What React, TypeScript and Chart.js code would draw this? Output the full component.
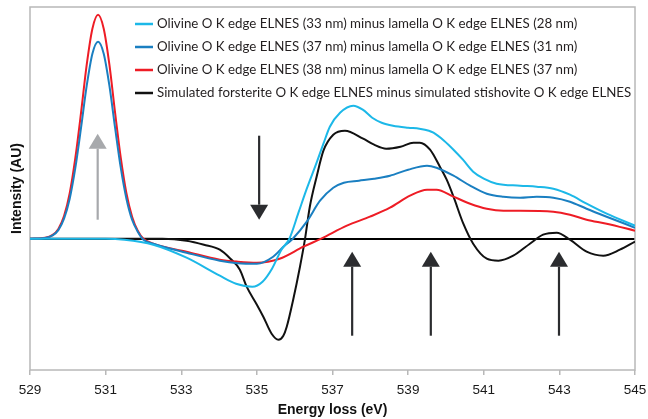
import React, { useEffect, useRef } from 'react';
import { Chart, registerables } from 'chart.js';

Chart.register(...registerables);

// ---- Data ----
const xTickValues = [529, 531, 533, 535, 537, 539, 541, 543, 545];

const cyanLabel = 'Olivine O K edge ELNES (33 nm) minus lamella O K edge ELNES (28 nm)';
const cyanEnergy = [529, 531, 531.5, 532.26, 533.14, 534.02, 534.45, 534.88, 535.15, 535.4, 535.65, 535.86, 536.1, 536.32, 536.58, 536.76, 536.93, 537.2, 537.55, 537.8, 538.05, 538.3, 538.6, 539.0, 539.3, 539.55, 539.67, 539.95, 540.2, 540.45, 540.72, 541.0, 541.34, 541.96, 542.4, 542.84, 543.28, 543.72, 544.25, 545];
const cyanIntensity = [0, 0, -0.01, -0.06, -0.19, -0.37, -0.45, -0.48, -0.43, -0.3, -0.11, 0, 0.26, 0.5, 0.76, 0.95, 1.12, 1.26, 1.33, 1.29, 1.21, 1.16, 1.13, 1.11, 1.1, 1.08, 1.06, 0.98, 0.89, 0.79, 0.67, 0.6, 0.55, 0.53, 0.52, 0.5, 0.44, 0.35, 0.25, 0.13];

const blueLabel = 'Olivine O K edge ELNES (37 nm) minus lamella O K edge ELNES (31 nm)';
const blueEnergy = [529, 529.4, 529.6, 529.75, 529.9, 530.05, 530.2, 530.35, 530.5, 530.65, 530.8, 530.95, 531.1, 531.25, 531.4, 531.55, 531.7, 531.85, 532.0, 532.26, 533.14, 534.02, 534.5, 535.0, 535.43, 535.7, 535.95, 536.32, 536.67, 537.02, 537.3, 537.7, 538.1, 538.52, 539.0, 539.5, 539.75, 540.2, 540.64, 541.08, 541.52, 541.96, 542.4, 542.84, 543.28, 543.72, 544.25, 545];
const blueIntensity = [0, 0.008, 0.033, 0.086, 0.2, 0.4, 0.71, 1.11, 1.53, 1.85, 1.97, 1.85, 1.53, 1.11, 0.71, 0.4, 0.19, 0.07, -0.01, -0.05, -0.14, -0.22, -0.245, -0.25, -0.18, -0.08, 0, 0.17, 0.38, 0.51, 0.56, 0.58, 0.6, 0.63, 0.69, 0.73, 0.71, 0.63, 0.53, 0.45, 0.42, 0.41, 0.42, 0.41, 0.37, 0.3, 0.22, 0.11];

const redLabel = 'Olivine O K edge ELNES (38 nm) minus lamella O K edge ELNES (37 nm)';
const redEnergy = [529, 529.4, 529.6, 529.75, 529.9, 530.05, 530.2, 530.35, 530.5, 530.65, 530.8, 530.95, 531.1, 531.25, 531.4, 531.55, 531.7, 531.85, 532.0, 532.26, 533.14, 534.02, 534.5, 535.0, 535.6, 536.23, 536.7, 537.38, 537.99, 538.52, 539.05, 539.5, 539.75, 540.2, 540.64, 541.08, 541.52, 541.96, 542.84, 543.28, 543.72, 544.25, 545];
const redIntensity = [0, 0.009, 0.038, 0.098, 0.226, 0.455, 0.81, 1.26, 1.74, 2.1, 2.24, 2.1, 1.74, 1.26, 0.81, 0.455, 0.22, 0.08, 0, -0.05, -0.13, -0.21, -0.23, -0.24, -0.2, -0.08, 0, 0.13, 0.22, 0.31, 0.43, 0.49, 0.49, 0.42, 0.35, 0.3, 0.28, 0.28, 0.27, 0.24, 0.19, 0.15, 0.08];

const blackLabel = 'Simulated forsterite O K edge ELNES minus simulated stishovite O K edge ELNES';
const blackEnergy = [529, 532.5, 533.14, 533.6, 534.02, 534.3, 534.55, 534.73, 535.0, 535.17, 535.39, 535.57, 535.7, 535.79, 535.96, 536.14, 536.27, 536.4, 536.58, 536.76, 537.02, 537.33, 537.81, 538.1, 538.42, 538.8, 539.14, 539.31, 539.58, 539.84, 540.02, 540.2, 540.46, 540.72, 541.08, 541.39, 541.78, 542.22, 542.57, 542.93, 543.28, 543.72, 544.16, 544.6, 545];
const blackIntensity = [0, 0, -0.02, -0.06, -0.11, -0.2, -0.31, -0.48, -0.66, -0.78, -0.95, -1.01, -0.97, -0.88, -0.61, -0.28, -0.01, 0.32, 0.62, 0.88, 1.04, 1.08, 1.0, 0.94, 0.9, 0.92, 0.96, 0.96, 0.89, 0.72, 0.59, 0.42, 0.15, -0.05, -0.2, -0.22, -0.17, -0.05, 0.04, 0.06, -0.01, -0.13, -0.17, -0.11, -0.03];

// Arrows: energy position, tail value, tip value, colour
const arrowEnergy = [530.79, 535.06, 537.52, 539.6, 542.99];
const arrowTail = [0.19, 1.03, -0.97, -0.97, -0.97];
const arrowTip = [1.05, 0.19, -0.13, -0.13, -0.13];
const arrowColor = ['#a7a9ac', '#2b2c2f', '#2b2c2f', '#2b2c2f', '#2b2c2f'];

const yMin = -1.313;
const yMax = 2.317;

const toPoints = (xs: number[], ys: number[]) => xs.map((x, i) => ({ x, y: ys[i] }));

const boxPlugin = {
  id: 'plotBox',
  beforeDatasetsDraw(chart: any) {
    const { ctx, chartArea } = chart;
    ctx.save();
    ctx.strokeStyle = '#b8b8b8';
    ctx.lineWidth = 1.5;
    ctx.strokeRect(chartArea.left, chartArea.top, chartArea.right - chartArea.left, chartArea.bottom - chartArea.top);
    ctx.restore();
  },
};

const arrowPlugin = {
  id: 'arrows',
  afterDatasetsDraw(chart: any) {
    const { ctx } = chart;
    const xs = chart.scales.x;
    const ys = chart.scales.y;
    ctx.save();
    arrowEnergy.forEach((e, i) => {
      const px = xs.getPixelForValue(e);
      const y0 = ys.getPixelForValue(arrowTail[i]);
      const y1 = ys.getPixelForValue(arrowTip[i]);
      const dir = y1 > y0 ? 1 : -1;
      const headLen = 15;
      const halfW = 9;
      ctx.strokeStyle = arrowColor[i];
      ctx.fillStyle = arrowColor[i];
      ctx.lineWidth = 2.2;
      ctx.beginPath();
      ctx.moveTo(px, y0);
      ctx.lineTo(px, y1 - dir * headLen);
      ctx.stroke();
      ctx.beginPath();
      ctx.moveTo(px, y1);
      ctx.lineTo(px - halfW, y1 - dir * headLen);
      ctx.lineTo(px + halfW, y1 - dir * headLen);
      ctx.closePath();
      ctx.fill();
    });
    ctx.restore();
  },
};

const legendPlugin = {
  id: 'insideLegend',
  afterDatasetsDraw(chart: any, _args: any, opts: any) {
    const { ctx, chartArea } = chart;
    ctx.save();
    ctx.font = opts.font;
    ctx.textBaseline = 'middle';
    ctx.textAlign = 'left';
    chart.data.datasets.forEach((ds: any, i: number) => {
      const y = chartArea.top + opts.top + i * opts.rowHeight;
      const x = chartArea.left + opts.left;
      ctx.strokeStyle = ds.borderColor;
      ctx.lineWidth = 2.5;
      ctx.beginPath();
      ctx.moveTo(x, y);
      ctx.lineTo(x + opts.lineLength, y);
      ctx.stroke();
      ctx.fillStyle = opts.color;
      ctx.fillText(ds.label, x + opts.lineLength + opts.gap, y);
    });
    ctx.restore();
  },
};

export default function App() {
  const canvasRef = useRef<HTMLCanvasElement>(null);

  useEffect(() => {
    document.body.style.margin = '0';
    const lineDefaults = {
      borderWidth: 2,
      pointRadius: 0,
      fill: false,
      cubicInterpolationMode: 'monotone' as const,
    };
    const chart = new Chart(canvasRef.current!, {
      type: 'line',
      data: {
        datasets: [
          { label: cyanLabel, data: toPoints(cyanEnergy, cyanIntensity), borderColor: '#1cb8e8', ...lineDefaults },
          { label: blueLabel, data: toPoints(blueEnergy, blueIntensity), borderColor: '#1a7fc1', ...lineDefaults },
          { label: redLabel, data: toPoints(redEnergy, redIntensity), borderColor: '#ee1c25', ...lineDefaults },
          { label: blackLabel, data: toPoints(blackEnergy, blackIntensity), borderColor: '#111111', ...lineDefaults },
        ],
      },
      options: {
        animation: false,
        responsive: true,
        maintainAspectRatio: false,
        layout: { padding: { top: 7, right: 13, left: 0, bottom: 0 } },
        plugins: {
          legend: { display: false },
          tooltip: { enabled: false },
          insideLegend: {
            font: '13.3px Lato, "Open Sans", sans-serif',
            color: '#231f20',
            top: 17,
            left: 105,
            rowHeight: 23,
            lineLength: 18,
            gap: 4,
          },
        } as any,
        scales: {
          x: {
            type: 'linear',
            min: 529,
            max: 545,
            afterBuildTicks: (s: any) => {
              s.ticks = xTickValues.map((v) => ({ value: v }));
            },
            afterFit: (s: any) => {
              s.height = 49;
              s.paddingLeft = 0;
              s.paddingRight = 0;
            },
            grid: { drawOnChartArea: false, drawTicks: true, tickLength: 5, color: '#b8b8b8', lineWidth: 1.5 },
            border: { display: false },
            ticks: {
              padding: 7,
              color: '#1a1a1a',
              font: { family: '"Liberation Sans", Arial, sans-serif', size: 13.5 },
              maxRotation: 0,
            },
            title: {
              display: true,
              text: 'Energy loss (eV)',
              color: '#111',
              font: { family: '"Liberation Sans", Arial, sans-serif', size: 14, weight: 'bold' },
              padding: { top: 0, bottom: 0 },
            },
          },
          y: {
            type: 'linear',
            min: yMin,
            max: yMax,
            afterBuildTicks: (s: any) => {
              s.ticks = [{ value: 0 }];
            },
            afterFit: (s: any) => {
              s.width = 30;
            },
            grid: { drawTicks: false, color: '#000000', lineWidth: 2 },
            border: { display: false },
            ticks: { display: false },
            title: {
              display: true,
              text: 'Intensity (AU)',
              color: '#111',
              font: { family: '"Liberation Sans", Arial, sans-serif', size: 14, weight: 'bold' },
              padding: { top: 9, bottom: 0 },
            },
          },
        },
      },
      plugins: [boxPlugin, arrowPlugin, legendPlugin],
    });
    return () => chart.destroy();
  }, []);

  return (
    <div style={{ width: 648, height: 419, position: 'relative' }}>
      <canvas ref={canvasRef} />
    </div>
  );
}
